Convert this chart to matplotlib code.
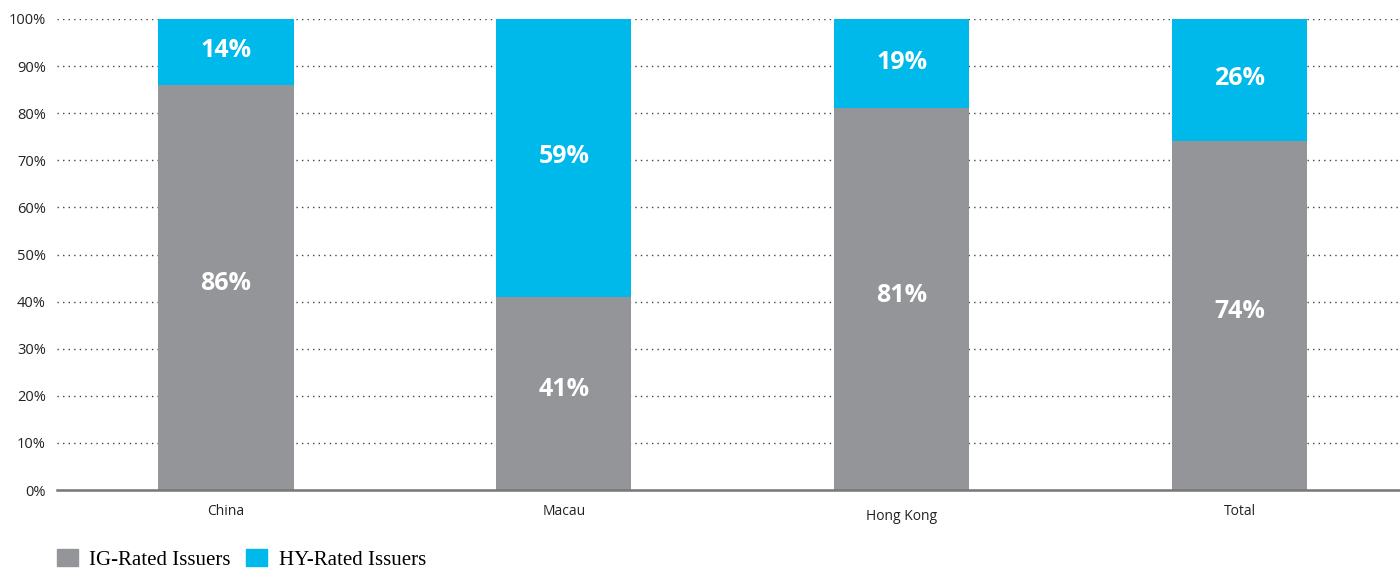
import matplotlib
matplotlib.use("Agg")
import matplotlib.pyplot as plt
import matplotlib.transforms as mtransforms
from matplotlib.patches import Patch
import numpy as np

categories = ["China", "Macau", "Hong Kong", "Total"]
ig_values = [86, 41, 81, 74]
hy_values = [14, 59, 19, 26]
series_names = ["IG-Rated Issuers", "HY-Rated Issuers"]
yticks = [0, 10, 20, 30, 40, 50, 60, 70, 80, 90, 100]

GRAY = "#939598"
BLUE = "#00B9EB"

fig = plt.figure(figsize=(14, 5.7), dpi=100)
ax = fig.add_axes([57/1400, 1 - 490/570, (1400-57)/1400, (490-19)/570])

x = np.arange(len(categories))
w = 0.4
ax.bar(x, ig_values, width=w, color=GRAY, zorder=3, label=series_names[0])
ax.bar(x, hy_values, width=w, bottom=ig_values, color=BLUE, zorder=3, label=series_names[1])

for xi, ig, hy in zip(x, ig_values, hy_values):
    ax.text(xi, ig/2 + 0.8, f"{ig}%", ha="center", va="center", color="white",
            fontsize=18, fontweight="bold", family="Open Sans", zorder=4)
    ax.text(xi, ig + hy/2 + 0.3, f"{hy}%", ha="center", va="center", color="white",
            fontsize=18, fontweight="bold", family="Open Sans", zorder=4)

ax.set_xlim(-0.5, (1400-225.5)/338)
ax.set_ylim(0, 100)
ax.set_yticks(yticks)
ax.set_yticklabels([f"{v}%" for v in yticks], fontsize=10.5, family="Open Sans", color="#222222")
ax.set_xticks(x)
ax.set_xticklabels(categories, fontsize=10, family="Open Sans", color="#222222")
ax.tick_params(axis="both", length=0)
ax.tick_params(axis="y", pad=8)
ax.tick_params(axis="x", pad=10)

# Hong Kong label sits slightly lower in the reference
lab = ax.get_xticklabels()[2]
lab.set_transform(lab.get_transform() + mtransforms.ScaledTranslation(0, -5/100, fig.dpi_scale_trans))

ax.grid(axis="y", linestyle=(0, (1, 3)), color="#444444", linewidth=1, zorder=0)
ax.grid(axis="x", visible=False)
for s in ["top", "right", "left"]:
    ax.spines[s].set_visible(False)
ax.spines["bottom"].set_color("#777777")
ax.spines["bottom"].set_linewidth(1.8)
ax.spines["bottom"].set_zorder(5)

handles = [Patch(color=GRAY), Patch(color=BLUE)]
fig.legend(handles, series_names, loc="lower left", bbox_to_anchor=(57/1400, 0.0),
           ncol=2, frameon=False, prop={"family": "Liberation Serif", "size": 15},
           borderpad=0, borderaxespad=0,
           handlelength=1.0, handleheight=0.9, handletextpad=0.55, columnspacing=0.75)

fig.savefig("out.png", dpi=100)
